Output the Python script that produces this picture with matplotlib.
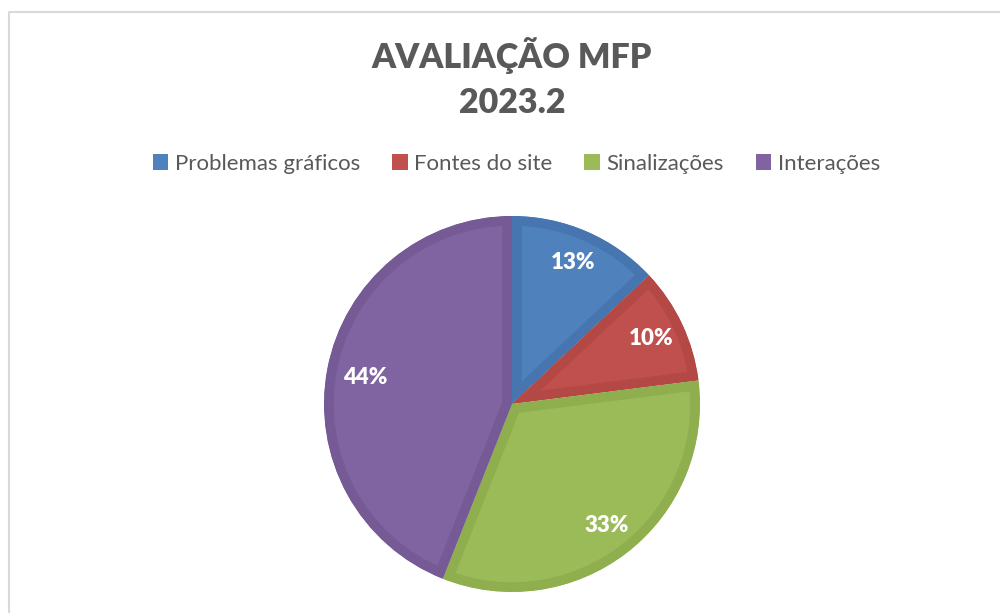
import matplotlib
matplotlib.use('Agg')
import matplotlib.pyplot as plt
from matplotlib.patches import Patch
from matplotlib.lines import Line2D

# dados do gráfico
categorias = ['Problemas gráficos', 'Fontes do site', 'Sinalizações', 'Interações']
valores = [13, 10, 33, 44]
cores = ['#4f81bd', '#c0504d', '#9bbb59', '#8064a2']
bordas = ['#4675af', '#b34844', '#8faf4f', '#765a96']

plt.rcParams['font.family'] = ['Lato', 'DejaVu Sans']

fig = plt.figure(figsize=(10, 6.13), dpi=100)

# moldura cinza do gráfico (só esquerda e topo aparecem)
fig.add_artist(Line2D([0.009, 0.009, 1.0], [0.0, 0.9804, 0.9804],
                      transform=fig.transFigure, color='#d9d9d9', lw=1.5))

ax = fig.add_axes([0.324, 0.0343, 0.376, 0.6134])
wedges, textos, autotextos = ax.pie(valores, colors=cores, startangle=90, counterclock=False,
                                    autopct='%.0f%%', pctdistance=0.82,
                                    textprops=dict(color='white', fontsize=16, fontweight='heavy'))
ax.set_xlim(-1, 1)
ax.set_ylim(-1, 1)

# borda mais escura dentro de cada fatia (efeito chanfrado)
for w, b in zip(wedges, bordas):
    w.set_edgecolor(b)
    w.set_linewidth(14)
    w.set_clip_on(True)
    w.set_clip_path(w)

# o rótulo de 44% fica na parte de cima da fatia roxa
autotextos[3].set_position((-0.78, 0.14))

fig.text(0.512, 1 - 56 / 613, 'AVALIAÇÃO MFP', ha='center', va='center',
         fontsize=24.5, fontweight='heavy', color='#595959')
fig.text(0.512, 1 - 103 / 613, '2023.2', ha='center', va='center',
         fontsize=24.5, fontweight='heavy', color='#595959')

handles = [Patch(facecolor=c) for c in cores]
fig.legend(handles, categorias, loc='center', bbox_to_anchor=(0.5165, 1 - 164 / 613),
           ncol=4, frameon=False, fontsize=16, labelcolor='#595959',
           handlelength=0.7, handleheight=0.7, handletextpad=0.3, columnspacing=1.43)

fig.savefig('out.png', dpi=100)
